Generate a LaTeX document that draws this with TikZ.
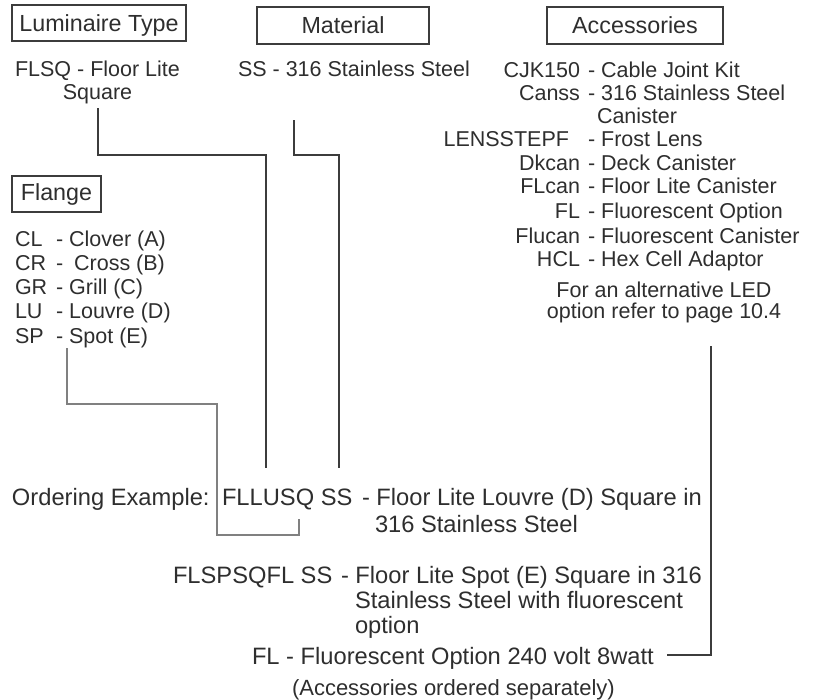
\documentclass[tikz,border=0pt]{standalone}
\usepackage{fontspec}
\setmainfont{Liberation Sans}
\definecolor{txt}{HTML}{2E2E2E}
\definecolor{linec}{HTML}{3C3C3C}
\definecolor{grayc}{HTML}{808080}
\begin{document}
\begin{tikzpicture}[x=1pt,y=-1pt,
  every node/.style={inner sep=0pt, outer sep=0pt, text=txt},
  hbox/.style={draw=linec, line width=1.2pt, font=\fontsize{23.3}{26}\selectfont, text height=16pt, text depth=0pt},
  up/.style={font=\fontsize{21.5}{23.5}\selectfont, anchor=base west},
  upr/.style={font=\fontsize{21.5}{23.5}\selectfont, anchor=base east},
  lo/.style={font=\fontsize{23.7}{25}\selectfont, anchor=base west},
  conn/.style={draw=linec, line width=1.2pt},
  conng/.style={draw=grayc, line width=1.2pt}]
\useasboundingbox (0,0) rectangle (816,699);

% header boxes
\node[hbox, minimum width=174pt, minimum height=36pt] (lum) at (99,23) {Luminaire Type};
\node[hbox, minimum width=172pt, minimum height=37pt] (mat) at (343,25.5) {Material};
\node[hbox, minimum width=176pt, minimum height=37pt] (acc) at (635,25.5) {Accessories};
\node[hbox, minimum width=89pt, minimum height=36pt, text height=12pt] (fla) at (56.5,194) {Flange};

% luminaire type
\node[up] (lt1) at (15,76) {FLSQ - Floor Lite};
\node[up, anchor=base] (lt2) at (97.5,99.5) {Square};

% material
\node[up] (mt1) at (238,76) {SS - 316 Stainless Steel};

% accessories
\node[upr] (a1c) at (580,77) {CJK150};
\node[up]  (a1d) at (588,77) {- Cable Joint Kit};
\node[upr] (a2c) at (580,100) {Canss};
\node[up]  (a2d) at (588,100) {- 316 Stainless Steel};
\node[up]  (a2e) at (597,123) {Canister};
\node[upr] (a3c) at (569,146) {LENSSTEPF};
\node[up]  (a3d) at (588,146) {- Frost Lens};
\node[upr] (a4c) at (580,170) {Dkcan};
\node[up]  (a4d) at (588,170) {- Deck Canister};
\node[upr] (a5c) at (580,193) {FLcan};
\node[up]  (a5d) at (588,193) {- Floor Lite Canister};
\node[upr] (a6c) at (580,218) {FL};
\node[up]  (a6d) at (588,218) {- Fluorescent Option};
\node[upr] (a7c) at (580,243) {Flucan};
\node[up]  (a7d) at (588,243) {- Fluorescent Canister};
\node[upr] (a8c) at (580,266) {HCL};
\node[up]  (a8d) at (588,266) {- Hex Cell Adaptor};
\node[up, anchor=base] (a9) at (664,297) {For an alternative LED};
\node[up, anchor=base] (a10) at (664,318) {option refer to page 10.4};

% flange
\node[up] (f1c) at (15,246) {CL};
\node[up] (f1d) at (56,246) {- Clover (A)};
\node[up] (f2c) at (15,270) {CR};
\node[up] (f2d) at (56,270) {-\hspace{5pt} Cross (B)};
\node[up] (f3c) at (15,294) {GR};
\node[up] (f3d) at (56,294) {- Grill (C)};
\node[up] (f4c) at (15,318) {LU};
\node[up] (f4d) at (56,318) {- Louvre (D)};
\node[up] (f5c) at (15,343) {SP};
\node[up] (f5d) at (56,343) {- Spot (E)};

% ordering examples
\node[lo] (oe) at (12,505) {Ordering Example:};
\node[lo] (ex1c) at (222,505) {FLLUSQ SS};
\node[lo] (ex1d) at (362,505) {- Floor Lite Louvre (D) Square in};
\node[lo] (ex1e) at (375,532) {316 Stainless Steel};
\node[lo] (ex2c) at (173,583) {FLSPSQFL SS};
\node[lo] (ex2d) at (341,583) {- Floor Lite Spot (E) Square in 316};
\node[lo] (ex2e) at (355,608) {Stainless Steel with fluorescent};
\node[lo] (ex2f) at (355,633) {option};
\node[lo] (ex3) at (252,664) {FL - Fluorescent Option 240 volt 8watt};
\node[font=\fontsize{22}{24}\selectfont, anchor=base west] (note) at (292,695) {(Accessories ordered separately)};

% connector end points
\coordinate (lumA) at (98,108);
\coordinate (lumB) at (266,468);
\coordinate (matA) at (294,120);
\coordinate (matB) at (339,468);
\coordinate (flA) at (67,348);
\coordinate (flB) at (299,519);
\coordinate (acA) at (711,346);
\coordinate (acB) at (667,655);

\draw[conn] (lumA) -- ++(0,47) -| (lumB);
\draw[conn] (matA) -- ++(0,35) -| (matB);
\draw[conng] (flA) -- ++(0,56) -- ++(150,0) -- ++(0,131) -| (flB);
\draw[conn] (acA) |- (acB);
\end{tikzpicture}
\end{document}
